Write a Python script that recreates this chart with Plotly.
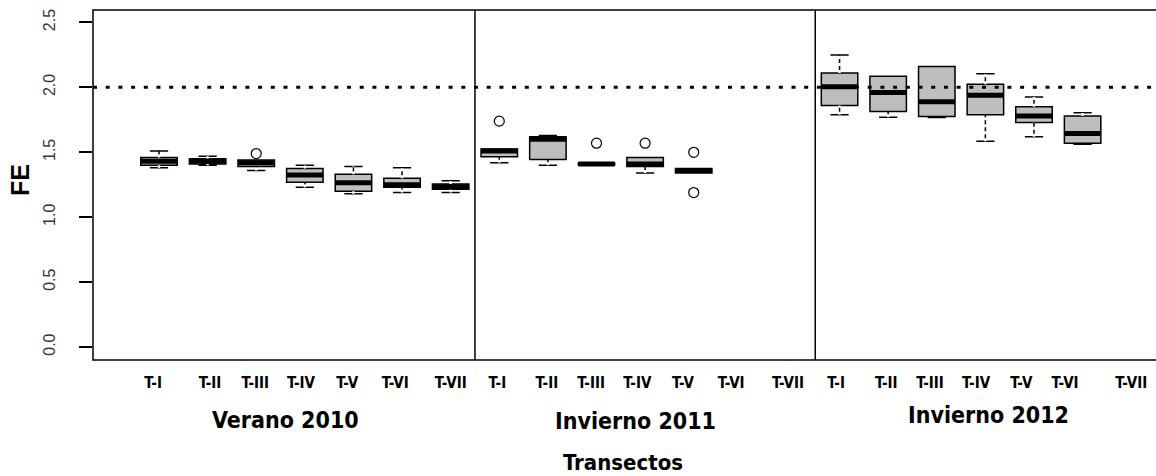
import plotly.graph_objects as go

# Transects sampled in each season
transects = ["T-I", "T-II", "T-III", "T-IV", "T-V", "T-VI", "T-VII"]
seasons = ["Verano 2010", "Invierno 2011", "Invierno 2012"]

# Box statistics of FE per transect (None = transect not sampled)
verano2010_lower = [1.38, 1.40, 1.36, 1.23, 1.18, 1.19, 1.19]
verano2010_q1 = [1.40, 1.41, 1.39, 1.27, 1.20, 1.23, 1.215]
verano2010_median = [1.43, 1.43, 1.42, 1.325, 1.265, 1.25, 1.235]
verano2010_q3 = [1.46, 1.45, 1.44, 1.375, 1.33, 1.30, 1.255]
verano2010_upper = [1.51, 1.47, 1.44, 1.40, 1.39, 1.38, 1.28]
verano2010_outliers = [[], [], [1.49], [], [], [], []]

invierno2011_lower = [1.42, 1.40, 1.40, 1.34, 1.34, None, None]
invierno2011_q1 = [1.465, 1.445, 1.405, 1.39, 1.34, None, None]
invierno2011_median = [1.51, 1.60, 1.41, 1.41, 1.36, None, None]
invierno2011_q3 = [1.525, 1.62, 1.415, 1.46, 1.375, None, None]
invierno2011_upper = [1.525, 1.63, 1.42, 1.46, 1.375, None, None]
invierno2011_outliers = [[1.74], [], [1.57], [1.57], [1.50, 1.19], [], []]

invierno2012_lower = [1.79, 1.77, 1.768, 1.585, 1.62, 1.562, None]
invierno2012_q1 = [1.86, 1.815, 1.775, 1.79, 1.73, 1.57, None]
invierno2012_median = [2.005, 1.96, 1.89, 1.94, 1.78, 1.645, None]
invierno2012_q3 = [2.11, 2.085, 2.16, 2.025, 1.85, 1.78, None]
invierno2012_upper = [2.25, 2.085, 2.16, 2.105, 1.925, 1.805, None]
invierno2012_outliers = [[], [], [], [], [], [], []]

reference_fe = 2.0

season_stats = [
    (verano2010_lower, verano2010_q1, verano2010_median, verano2010_q3,
     verano2010_upper, verano2010_outliers),
    (invierno2011_lower, invierno2011_q1, invierno2011_median, invierno2011_q3,
     invierno2011_upper, invierno2011_outliers),
    (invierno2012_lower, invierno2012_q1, invierno2012_median, invierno2012_q3,
     invierno2012_upper, invierno2012_outliers),
]

n_tr = len(transects)
box_width = 0.75

# Small horizontal nudges of the transect labels under each box
label_nudge = [-0.12, 0.05, -0.02, -0.08, -0.13, -0.14, 0.0,
               -0.04, -0.02, -0.11, -0.16, -0.22, -0.23, -0.06,
               -0.07, -0.04, -0.14, -0.19, -0.26, -0.36, 0.0]

# Flatten into one sequence of positions 1..21
pos, lo, q1, med, q3, up = [], [], [], [], [], []
out_x, out_y = [], []
tick_pos, tick_text = [], []
for s, (l, a, m, b, u, o) in enumerate(season_stats):
    for i in range(n_tr):
        p = s * n_tr + i + 1
        tick_pos.append(p + label_nudge[p - 1])
        tick_text.append(transects[i])
        for v in o[i]:
            out_x.append(p)
            out_y.append(v)
        if m[i] is None:
            continue
        pos.append(p)
        lo.append(l[i]); q1.append(a[i]); med.append(m[i])
        q3.append(b[i]); up.append(u[i])

fig = go.Figure()

fig.add_trace(go.Box(
    x=pos, q1=q1, median=med, q3=q3, lowerfence=lo, upperfence=up,
    width=box_width, whiskerwidth=0.5, boxpoints=False,
    fillcolor="#BEBEBE", line=dict(color="black", width=1.5),
    hoverinfo="skip", showlegend=False,
))

# Dashed whiskers: white gaps over the solid whisker segments
wx, wy = [], []
for p, l, a, b, u in zip(pos, lo, q1, q3, up):
    if a - l > 0.01:
        wx += [p, p, None]; wy += [l, a, None]
    if u - b > 0.01:
        wx += [p, p, None]; wy += [b, u, None]
fig.add_trace(go.Scatter(
    x=wx, y=wy, mode="lines",
    line=dict(color="white", width=2.5, dash="3px,4px"),
    hoverinfo="skip", showlegend=False,
))

# Thick median bars
mx, my = [], []
for p, m in zip(pos, med):
    mx += [p - box_width / 2, p + box_width / 2, None]
    my += [m, m, None]
fig.add_trace(go.Scatter(
    x=mx, y=my, mode="lines", line=dict(color="black", width=5),
    hoverinfo="skip", showlegend=False,
))

# Outlying observations
fig.add_trace(go.Scatter(
    x=out_x, y=out_y, mode="markers",
    marker=dict(symbol="circle-open", size=10, color="black",
                line=dict(width=1.2)),
    hoverinfo="skip", showlegend=False,
))

label_font = "Liberation Sans Narrow, DejaVu Sans Condensed, Arial, sans-serif"

shapes = [
    # plot frame (open on the right)
    dict(type="rect", xref="paper", yref="paper", x0=0, x1=1.2, y0=0, y1=1,
         line=dict(color="black", width=1.5)),
    # reference level
    dict(type="line", xref="paper", yref="y", x0=0, x1=1.2,
         y0=reference_fe, y1=reference_fe,
         line=dict(color="black", width=3, dash="4px,8.7px")),
]
for s in range(1, len(seasons)):
    xv = s * n_tr + 0.5
    shapes.append(dict(type="line", xref="x", yref="paper", x0=xv, x1=xv,
                       y0=0, y1=1, line=dict(color="black", width=1.5)))

annotations = []
season_x = [3.6, 10.8, 18.06]
season_y = [-0.171, -0.174, -0.157]
for name, sx, sy in zip(seasons, season_x, season_y):
    annotations.append(dict(
        text=name, x=sx, y=sy, xref="x", yref="paper", showarrow=False,
        xanchor="center", yanchor="middle",
        font=dict(family=label_font, size=23, color="black", weight="bold"),
    ))
annotations.append(dict(
    text="Transectos", x=10.55, y=-0.293, xref="x", yref="paper",
    showarrow=False, xanchor="center", yanchor="middle",
    font=dict(family=label_font, size=22, color="black", weight="bold"),
))
annotations.append(dict(
    text="FE", x=0, xshift=-73, y=0.514, xref="paper", yref="paper",
    showarrow=False, xanchor="center", yanchor="middle", textangle=-90,
    font=dict(family="Liberation Sans, Arial, sans-serif", size=25,
              color="black", weight="bold"),
))

fig.update_layout(
    width=1156, height=476,
    margin=dict(l=93, r=0, t=10, b=116),
    paper_bgcolor="white", plot_bgcolor="white",
    shapes=shapes, annotations=annotations,
    xaxis=dict(
        range=[-0.358, 21.51], tickvals=tick_pos, ticktext=tick_text,
        ticks="", showgrid=False, zeroline=False, showline=False,
        tickfont=dict(family=label_font, size=15, color="black",
                      weight="bold"),
        ticklabelstandoff=12,
    ),
    yaxis=dict(
        range=[-0.1, 2.596], tickvals=[0, 0.5, 1, 1.5, 2, 2.5],
        ticktext=["0.0", "0.5", "1.0", "1.5", "2.0", "2.5"],
        tickangle=-90, ticks="outside", ticklen=13, tickwidth=1.5,
        tickcolor="black", showgrid=False, zeroline=False, showline=False,
        tickfont=dict(family="Liberation Sans, Arial, sans-serif", size=16,
                      color="#333333"),
        ticklabelstandoff=18,
    ),
)

fig.write_html("out.html")
